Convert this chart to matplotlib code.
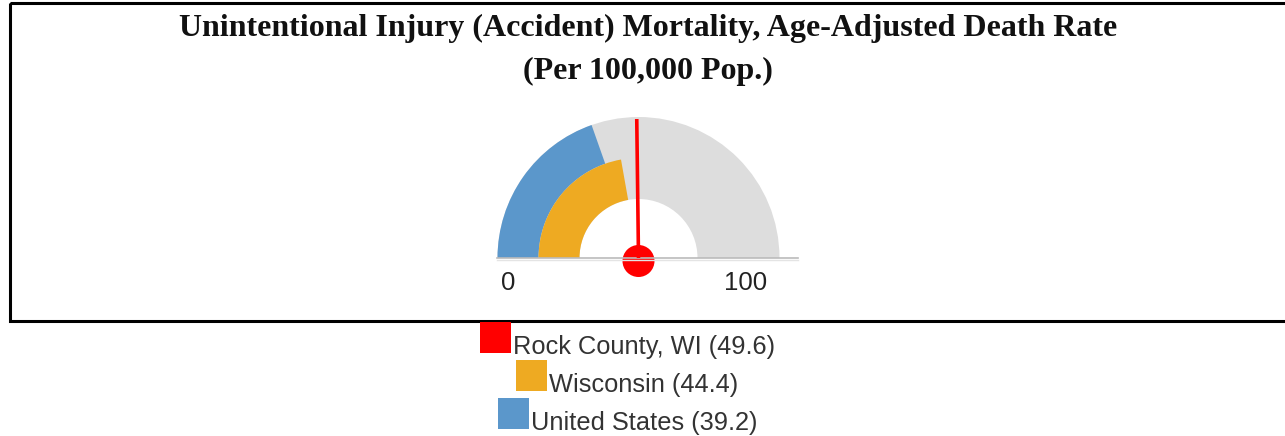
import numpy as np
import matplotlib
matplotlib.use("Agg")
import matplotlib.pyplot as plt
from matplotlib.patches import Wedge, Rectangle, Circle

# Gauge data
title_lines = ["Unintentional Injury (Accident) Mortality, Age-Adjusted Death Rate",
               "(Per 100,000 Pop.)"]
gauge_min, gauge_max = 0, 100
series_names = ["Rock County, WI", "Wisconsin", "United States"]
series_values = [49.6, 44.4, 39.2]
series_colors = ["#ff0000", "#eeaa22", "#5b97cb"]

W, H = 1285, 436
fig = plt.figure(figsize=(W / 100, H / 100), dpi=100)
ax = fig.add_axes([0, 0, 1, 1])
ax.set_xlim(0, W)
ax.set_ylim(H, 0)
ax.set_aspect("equal")
ax.axis("off")

def to_angle(v):
    # 0 sits on the left, max on the right
    return 180 - (v - gauge_min) / (gauge_max - gauge_min) * 180

# frame around the chart area
ax.add_patch(Rectangle((9.5, 3.5), 1300, 317.5, fill=False, lw=2.2,
                       edgecolor="black"))

# title
for i, line in enumerate(title_lines):
    ax.text(648, 28 + i * 43, line, ha="center", va="center",
            fontsize=23, fontweight="bold", family="Liberation Serif",
            color="#111111")

cx, cy = 638.5, 258
r_out, r_mid, r_in = 141, 100, 59

# background band, y axis flipped so angles are mirrored
def band(r1, r2, v1, v2, color):
    a1, a2 = to_angle(v2), to_angle(v1)
    ax.add_patch(Wedge((cx, cy), r2, -a2, -a1, width=r2 - r1,
                       facecolor=color, edgecolor="none"))

band(r_in, r_out, gauge_min, gauge_max, "#dddddd")
band(r_mid, r_out, gauge_min, series_values[2], series_colors[2])
band(r_in, r_mid, gauge_min, series_values[1], series_colors[1])

# baseline
ax.plot([497, 798], [cy, cy], color="#bbbbbb", lw=1.2)
ax.plot([497, 798], [cy + 1.5, cy + 1.5], color="#e4e4e4", lw=1)

# needle
ang = np.radians(to_angle(series_values[0]))
ax.plot([cx, cx + (r_out - 2) * np.cos(ang)], [cy, cy - (r_out - 2) * np.sin(ang)],
        color=series_colors[0], lw=2.6, solid_capstyle="butt")
ax.add_patch(Circle((cx, cy + 3), 16, facecolor=series_colors[0],
                    edgecolor="none"))

# scale labels
ax.text(508, 283, str(gauge_min), ha="center", va="center", fontsize=18.5,
        family="Liberation Sans", color="#222222")
ax.text(746, 283, str(gauge_max), ha="center", va="center", fontsize=18.5,
        family="Liberation Sans", color="#222222")

# legend rows, each centred under the gauge
fig.canvas.draw()
renderer = fig.canvas.get_renderer()
sq = 31
row_tops = [322, 360, 398]
for name, val, col, top in zip(series_names, series_values, series_colors, row_tops):
    t = ax.text(0, top + sq + 1, f"{name} ({val})", ha="left", va="baseline",
                fontsize=18.3, family="Liberation Sans", color="#333333")
    tw = t.get_window_extent(renderer).width
    total = sq + 2 + tw
    x0 = 627.5 - total / 2
    ax.add_patch(Rectangle((x0, top), sq, sq, facecolor=col, edgecolor="none"))
    t.set_x(x0 + sq + 2)

fig.savefig("out.png", dpi=100)
